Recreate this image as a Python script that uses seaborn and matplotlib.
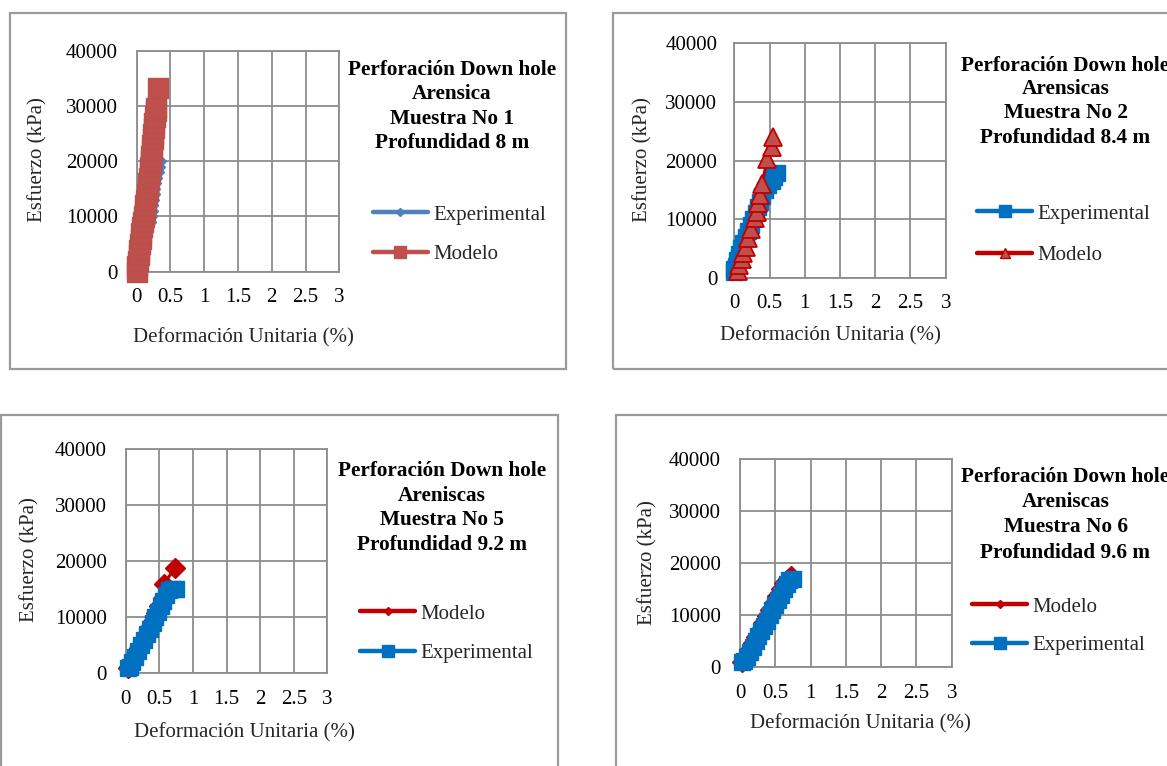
import matplotlib
matplotlib.use("Agg")
import matplotlib.pyplot as plt
from matplotlib.lines import Line2D
from matplotlib.patches import Rectangle
import seaborn as sns

# ---------------------------------------------------------------- data
x_ticks = [0, 0.5, 1, 1.5, 2, 2.5, 3]
x_tick_labels = ["0", "0.5", "1", "1.5", "2", "2.5", "3"]
y_ticks = [0, 10000, 20000, 30000, 40000]
y_tick_labels = ["0", "10000", "20000", "30000", "40000"]

x_label = "Deformación Unitaria (%)"
y_label = "Esfuerzo (kPa)"

# Muestra No 1
exp1_strain = [0.00, 0.03, 0.06, 0.09, 0.11, 0.13, 0.15, 0.17, 0.20, 0.22, 0.24,
               0.25, 0.26, 0.27, 0.28, 0.29, 0.30, 0.32, 0.34, 0.36, 0.38]
exp1_stress = [0, 1000, 2000, 3000, 4000, 5000, 6000, 7000, 8000, 9000, 10000,
               11000, 12000, 13000, 14000, 15000, 16000, 17000, 18000, 19000, 20000]
mod1_strain = [0.00, 0.01, 0.02, 0.03, 0.04, 0.05, 0.06, 0.07, 0.08, 0.095,
               0.11, 0.12, 0.13, 0.14, 0.15, 0.16, 0.17, 0.18, 0.19, 0.20,
               0.21, 0.215, 0.22, 0.23, 0.24, 0.245, 0.25, 0.26, 0.27, 0.28,
               0.29, 0.315]
mod1_stress = [0, 1000, 2000, 3000, 4000, 5000, 6000, 7000, 8000, 9000,
               10000, 11000, 12000, 13000, 14000, 15000, 16000, 17000, 18000, 19000,
               20000, 21000, 22000, 23000, 24000, 25000, 26000, 27000, 28000, 29000,
               29600, 33250]

# Muestra No 2
exp2_strain = [0.00, 0.00, 0.02, 0.04, 0.07, 0.10, 0.13, 0.16, 0.20, 0.23,
               0.27, 0.31, 0.34, 0.37, 0.40, 0.43, 0.48, 0.53, 0.57, 0.60]
exp2_stress = [1000, 1500, 2000, 3000, 4000, 5000, 6000, 7000, 8000, 9000,
               10000, 11000, 12000, 13000, 14000, 15000, 15800, 16500, 17200, 17800]
mod2_strain = [0.05, 0.07, 0.105, 0.13, 0.165, 0.20, 0.24, 0.29, 0.32, 0.34,
               0.365, 0.39, 0.47, 0.53, 0.545]
mod2_stress = [1200, 2200, 3140, 4270, 5290, 6720, 8260, 10130, 11260, 12700,
               14100, 16000, 20200, 22350, 24000]

# Muestra No 5
mod5_strain = [0.03, 0.05, 0.10, 0.15, 0.20, 0.25, 0.30, 0.35, 0.40, 0.45,
               0.50, 0.55, 0.57, 0.73]
mod5_stress = [900, 1100, 2200, 3300, 4500, 5700, 6900, 8100, 9400, 10700,
               12000, 13500, 16000, 18750]
exp5_strain = [0.03, 0.06, 0.10, 0.14, 0.19, 0.23, 0.27, 0.31, 0.36, 0.40,
               0.44, 0.48, 0.52, 0.56, 0.60, 0.65, 0.70, 0.75]
exp5_stress = [900, 1200, 2000, 3000, 4000, 5000, 6000, 7000, 8000, 9000,
               10000, 11000, 12000, 13000, 14000, 14800, 15000, 15000]

# Muestra No 6
mod6_strain = [0.03, 0.08, 0.13, 0.18, 0.23, 0.28, 0.33, 0.38, 0.43, 0.48,
               0.53, 0.58, 0.63, 0.68, 0.72]
mod6_stress = [1000, 2000, 3300, 4600, 5900, 7200, 8500, 9800, 11100, 12400,
               13700, 15000, 16300, 17000, 17600]
exp6_strain = [0.03, 0.06, 0.10, 0.14, 0.18, 0.22, 0.26, 0.30, 0.34, 0.38,
               0.42, 0.46, 0.50, 0.54, 0.58, 0.62, 0.66, 0.70, 0.75]
exp6_stress = [1000, 1300, 2000, 3000, 4000, 5000, 6000, 7000, 8000, 9000,
               10000, 11000, 12000, 13000, 14000, 15000, 16000, 16800, 17000]

titles = [
    ["Perforación Down hole", "Arensica", "Muestra No 1", "Profundidad 8 m"],
    ["Perforación Down hole", "Arensicas", "Muestra No 2", "Profundidad 8.4 m"],
    ["Perforación Down hole", "Areniscas", "Muestra No 5", "Profundidad 9.2 m"],
    ["Perforación Down hole", "Areniscas", "Muestra No 6", "Profundidad 9.6 m"],
]

# ---------------------------------------------------------------- style
W, H = 1167, 766
sns.set_style("white")
plt.rcParams["font.family"] = ["Liberation Serif", "DejaVu Serif"]
FS = 15
GRID = "#8c8c8c"
FRAME = "#9a9a9a"
BLUE_A, RED_A = "#4F81BD", "#C0504D"
BLUE_B, RED_B = "#0070C0", "#C00000"

fig = plt.figure(figsize=(W / 100, H / 100), dpi=100)


def fx(px):
    return px / W


def fy(py):
    return 1 - py / H


def add_frame(x0, y0, x1, y1):
    fig.add_artist(Rectangle((fx(x0), fy(y1)), (x1 - x0) / W, (y1 - y0) / H,
                             transform=fig.transFigure, fill=False,
                             edgecolor=FRAME, linewidth=1.6, clip_on=False))


def make_axes(box, ylab_px, xlab_px, ypad):
    x0, x1, yt, yb = box
    ax = fig.add_axes([fx(x0), fy(yb), (x1 - x0) / W, (yb - yt) / H])
    ax.set_xlim(0, 3)
    ax.set_ylim(0, 40000)
    ax.set_xticks(x_ticks)
    ax.set_xticklabels(x_tick_labels)
    ax.set_yticks(y_ticks)
    ax.set_yticklabels(y_tick_labels)
    ax.grid(True, color=GRID, linewidth=1.3)
    ax.set_axisbelow(True)
    for s in ax.spines.values():
        s.set_color(GRID)
        s.set_linewidth(1.3)
        s.set_zorder(1)
    ax.tick_params(axis="both", direction="out", length=4.3, width=1.3,
                   color=GRID, labelsize=FS, labelcolor="black")
    ax.tick_params(axis="y", pad=ypad)
    ax.tick_params(axis="x", pad=7.5)
    ax.set_ylabel(y_label, fontsize=FS, va="center", ha="center")
    ax.set_xlabel(x_label, fontsize=FS, va="center", ha="center")
    ax.yaxis.set_label_coords((ylab_px[0] - x0) / (x1 - x0), (yb - ylab_px[1]) / (yb - yt))
    ax.xaxis.set_label_coords((xlab_px[0] - x0) / (x1 - x0), (yb - xlab_px[1]) / (yb - yt))
    return ax


def draw(ax, strain, stress, color, marker, ms, mfc=None, mec=None, mew=1.0, z=3):
    sns.lineplot(x=strain, y=stress, ax=ax, sort=False, estimator=None,
                 color=color, linewidth=2.2, marker=marker, markersize=ms,
                 markerfacecolor=mfc or color, markeredgecolor=mec or color,
                 markeredgewidth=mew, legend=False, zorder=z, clip_on=False)


def add_title(lines, cx, baselines):
    for txt, yb in zip(lines, baselines):
        fig.text(fx(cx), fy(yb), txt, ha="center", va="baseline",
                 fontsize=FS + 0.3, fontweight="bold", color="black")


def add_legend(handles, labels, left_px, mid_px, spacing=0.95):
    fig.legend(handles, labels, loc="center left",
               bbox_to_anchor=(fx(left_px), fy(mid_px)),
               frameon=False, fontsize=FS, handlelength=2.64,
               handletextpad=0.25, labelspacing=spacing, borderpad=0,
               borderaxespad=0)


def handle(color, marker, ms, mfc=None, mec=None):
    return Line2D([], [], color=color, linewidth=3.2, solid_capstyle="round",
                  marker=marker, markersize=ms, markerfacecolor=mfc or color,
                  markeredgecolor=mec or color)


# frames around each chart
add_frame(10, 13, 566, 369)
add_frame(613, 13, 1185, 369)
add_frame(1, 415, 558, 785)
add_frame(616, 415, 1185, 785)

# ---- Muestra No 1
ax1 = make_axes((136.7, 339.3, 50.7, 271.7), (38, 160), (243.5, 338), 9.4)
draw(ax1, exp1_strain, exp1_stress, BLUE_A, "D", 4.0, z=3)
draw(ax1, mod1_strain, mod1_stress, RED_A, "s", 14.2, mec="#B9504C", z=4)
add_title(titles[0], 452, [75, 99.3, 124, 148])
add_legend([handle(BLUE_A, "D", 4.0), handle(RED_A, "s", 8.5)],
           ["Experimental", "Modelo"], 373, 234.5)

# ---- Muestra No 2
ax2 = make_axes((734.3, 945.7, 43.3, 277.7), (643, 160), (830, 336), 8.0)
draw(ax2, exp2_strain, exp2_stress, BLUE_B, "s", 11, z=3)
draw(ax2, mod2_strain, mod2_stress, RED_B, "^", 13, mfc=RED_A, mec=RED_B, mew=1.3, z=4)
add_title(titles[1], 1065.5, [70.7, 94, 118.3, 142.7])
add_legend([handle(BLUE_B, "s", 9), handle(RED_B, "^", 6.5, mfc=RED_A, mec=RED_B)],
           ["Experimental", "Modelo"], 977, 234.5, spacing=1.05)

# ---- Muestra No 5
ax3 = make_axes((125.7, 327.3, 449.3, 673.3), (30, 560), (244, 733), 9.4)
draw(ax3, mod5_strain, mod5_stress, RED_B, "D", 9.8, z=3)
draw(ax3, exp5_strain, exp5_stress, BLUE_B, "s", 12, z=4)
add_title(titles[2], 442, [475.7, 500.7, 525, 550])
add_legend([handle(RED_B, "D", 4.5), handle(BLUE_B, "s", 8)],
           ["Modelo", "Experimental"], 360, 633.5)

# ---- Muestra No 6
ax4 = make_axes((740, 951.7, 459.3, 667.3), (648, 563), (860, 724), 9.4)
draw(ax4, mod6_strain, mod6_stress, RED_B, "D", 9.8, z=3)
draw(ax4, exp6_strain, exp6_stress, BLUE_B, "s", 11.5, z=4)
add_title(titles[3], 1065.5, [481.7, 506.7, 531.7, 558.3])
add_legend([handle(RED_B, "D", 4.5), handle(BLUE_B, "s", 8)],
           ["Modelo", "Experimental"], 972, 626, spacing=0.9)

fig.savefig("out.png", dpi=100, facecolor="white")
